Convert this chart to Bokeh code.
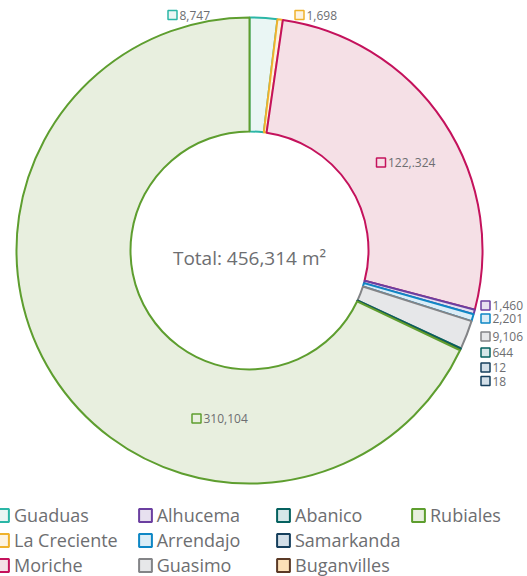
import math
from bokeh.plotting import figure
from bokeh.models import Range1d, Legend, LegendItem, ColumnDataSource
from bokeh.core.properties import value
from bokeh.embed import file_html
from bokeh.resources import INLINE

# ---- data ----
names = ["Guaduas", "La Creciente", "Moriche", "Alhucema", "Arrendajo",
         "Guasimo", "Abanico", "Samarkanda", "Buganvilles", "Rubiales"]
areas = [8747, 1698, 122324, 1460, 2201, 9106, 644, 12, 18, 310104]
value_labels = ["8,747", "1,698", "122,.324", "1,460", "2,201",
                "9,106", "644", "12", "18", "310,104"]

# ---- styles ----
line_colors = ["#2bb6a6", "#efb22c", "#c4125c", "#6b3fa0", "#0e87c5",
               "#838487", "#05615f", "#163f5c", "#5b3a26", "#5e9e2f"]
fill_colors = ["#eaf6f4", "#fdf3e1", "#f5e0e6", "#e7e0ef", "#dbedf7",
               "#e6e7e9", "#d5e7e8", "#d3dfe8", "#fde1b8", "#e8efdf"]
label_line = line_colors[:8] + ["#163f5c", line_colors[9]]
label_fill = fill_colors[:8] + ["#d3dfe8", fill_colors[9]]
TEXT = "#6d6e71"
FONT = "Open Sans"

# figure covers the whole window; data x = pixel x, data y = 576 - pixel y
W, H = 527, 576
def py(v):
    return H - v

CX, CY = 249, py(250)
R_IN, R_OUT = 119, 233

# label marker positions (pixels)
lab_x = [172, 299, 380.5, 485, 485, 485, 485, 485, 485, 196]
lab_y = [14.5, 14.5, 162, 305, 318, 336, 352, 367, 380.5, 418]

total = sum(areas)
starts, ends = [], []
acc = 0.0
for a in areas:
    starts.append(math.pi / 2 - 2 * math.pi * acc / total)
    acc += a
    ends.append(math.pi / 2 - 2 * math.pi * acc / total)

src = ColumnDataSource(dict(name=names, start=starts, end=ends,
                            fill=fill_colors, line=line_colors))

p = figure(width=W, height=H, output_backend="svg", toolbar_location=None,
           x_range=Range1d(0, W), y_range=Range1d(0, H),
           x_axis_location=None, y_axis_location=None,
           min_border=0, outline_line_color=None)
p.grid.visible = False

r = p.annular_wedge(x=CX, y=CY, inner_radius=R_IN, outer_radius=R_OUT,
                    start_angle="start", end_angle="end", direction="clock",
                    fill_color="fill", line_color="line", line_width=2,
                    source=src)

lsrc = ColumnDataSource(dict(x=lab_x, y=[py(v) for v in lab_y],
                             tx=[v + 7 for v in lab_x],
                             text=value_labels, fill=label_fill, line=label_line))
p.scatter(x="x", y="y", source=lsrc, marker="square", size=9,
          fill_color="fill", line_color="line", line_width=1.5)
p.text(x="tx", y="y", text="text", source=lsrc, text_font=value(FONT),
       text_font_size="12px", text_color=TEXT, text_baseline="middle",
       text_align="left")

p.text(x=[CX], y=[py(257.5)], text=[f"Total: {total:,} m\u00b2"],
       text_font=value(FONT), text_font_size="19px", text_color=TEXT,
       text_baseline="alphabetic", text_align="center")

cols = [[0, 1, 2], [3, 4, 5], [6, 7, 8], [9]]
col_x = [-6, 136.7, 275, 410]
for ci, idxs in enumerate(cols):
    items = [LegendItem(label=names[i], renderers=[r], index=i) for i in idxs]
    n = len(idxs)
    leg = Legend(items=items, location=(col_x[ci], -1 if n == 3 else 49),
                 orientation="vertical", glyph_width=16, glyph_height=16,
                 label_height=25, label_standoff=4, spacing=0,
                 padding=0, margin=0, border_line_alpha=0,
                 background_fill_alpha=0, label_text_font=FONT,
                 label_text_font_size="18px", label_text_color=TEXT)
    p.add_layout(leg)

open("out.html", "w").write(file_html(p, INLINE))
